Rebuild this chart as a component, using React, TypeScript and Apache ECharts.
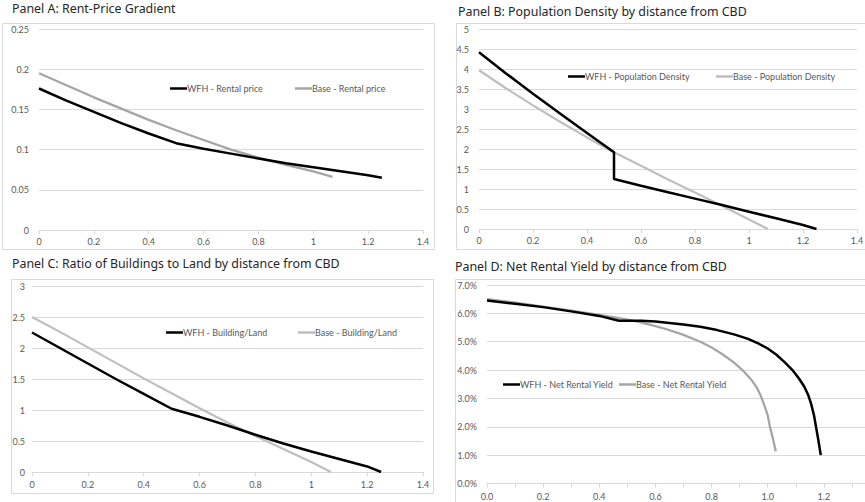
import React, { useEffect, useRef } from "react";
import * as echarts from "echarts";

// Panel A: Rent-Price Gradient
const aWfhX = [0, 0.1, 0.2, 0.3, 0.4, 0.5, 0.6, 0.7, 0.8, 0.9, 1.0, 1.1, 1.2, 1.25];
const aWfhY = [0.176, 0.161, 0.147, 0.133, 0.12, 0.108, 0.101, 0.095, 0.089, 0.083, 0.078, 0.073, 0.068, 0.065];
const aBaseX = [0, 0.1, 0.2, 0.3, 0.4, 0.5, 0.6, 0.7, 0.8, 0.9, 1.0, 1.07];
const aBaseY = [0.195, 0.18, 0.165, 0.151, 0.137, 0.124, 0.112, 0.1, 0.09, 0.081, 0.073, 0.066];

// Panel B: Population Density
const bWfhX = [0, 0.1, 0.2, 0.3, 0.4, 0.5, 0.5, 0.6, 0.7, 0.8, 0.9, 1.0, 1.1, 1.2, 1.25];
const bWfhY = [4.42, 3.89, 3.38, 2.89, 2.4, 1.92, 1.25, 1.08, 0.92, 0.76, 0.6, 0.43, 0.27, 0.1, 0];
const bBaseX = [0, 0.1, 0.2, 0.3, 0.4, 0.5, 0.6, 0.7, 0.8, 0.9, 1.0, 1.07];
const bBaseY = [3.97, 3.52, 3.09, 2.68, 2.29, 1.92, 1.58, 1.24, 0.91, 0.58, 0.24, 0];

// Panel C: Ratio of Buildings to Land
const cWfhX = [0, 0.1, 0.2, 0.3, 0.4, 0.5, 0.6, 0.7, 0.8, 0.9, 1.0, 1.1, 1.2, 1.25];
const cWfhY = [2.25, 2.0, 1.75, 1.5, 1.26, 1.02, 0.89, 0.75, 0.6, 0.46, 0.33, 0.21, 0.09, 0];
const cBaseX = [0, 0.1, 0.2, 0.3, 0.4, 0.5, 0.6, 0.7, 0.8, 0.9, 1.0, 1.07];
const cBaseY = [2.5, 2.26, 2.01, 1.76, 1.51, 1.27, 1.03, 0.8, 0.58, 0.37, 0.16, 0];

// Panel D: Net Rental Yield (%)
const dWfhX = [0, 0.1, 0.2, 0.3, 0.4, 0.47, 0.5, 0.55, 0.6, 0.7, 0.76, 0.82, 0.88, 0.93, 0.97, 1.0, 1.03, 1.06, 1.09, 1.11, 1.13, 1.145, 1.155, 1.165, 1.172, 1.18, 1.189];
const dWfhY = [6.45, 6.34, 6.22, 6.07, 5.91, 5.74, 5.74, 5.74, 5.71, 5.61, 5.53, 5.41, 5.26, 5.1, 4.92, 4.76, 4.55, 4.28, 3.98, 3.72, 3.42, 3.1, 2.8, 2.4, 2.0, 1.55, 1.0];
const dBaseX = [0, 0.1, 0.2, 0.3, 0.4, 0.46, 0.52, 0.58, 0.64, 0.7, 0.76, 0.8, 0.84, 0.88, 0.91, 0.94, 0.96, 0.975, 0.99, 1.0, 1.008, 1.018, 1.029];
const dBaseY = [6.5, 6.38, 6.24, 6.1, 5.95, 5.85, 5.74, 5.6, 5.44, 5.24, 5.0, 4.8, 4.55, 4.26, 4.0, 3.68, 3.4, 3.1, 2.7, 2.4, 2.0, 1.6, 1.13];

const titles = [
  "Panel A: Rent-Price Gradient",
  "Panel B: Population Density by distance from CBD",
  "Panel C: Ratio of Buildings to Land by distance from CBD",
  "Panel D: Net Rental Yield by distance from CBD",
];
const seriesNames = [
  ["WFH - Rental price", "Base - Rental price"],
  ["WFH - Population Density", "Base - Population Density"],
  ["WFH - Building/Land", "Base - Building/Land"],
  ["WFH - Net Rental Yield", "Base - Net Rental Yield"],
];

const zip = (xs: number[], ys: number[]) => xs.map((x, i) => [x, ys[i]]);

const FONT = "Lato";
const TITLE_FONT = "Noto Sans";
const GRID_C = "#d9d9d9";
const LABEL_C = "#595959";

export default function App() {
  const ref = useRef<HTMLDivElement>(null);
  useEffect(() => {
    if (!ref.current) return;
    const chart = echarts.init(ref.current, undefined, { renderer: "svg" });

    const grids = [
      { left: 39, top: 29, width: 384, height: 201 },
      { left: 479, top: 29, width: 378, height: 200 },
      { left: 32, top: 286, width: 391, height: 186 },
      { left: 487, top: 285, width: 393, height: 198.5 },
    ];
    const xFmt = (v: number) => String(Math.round(v * 10) / 10);
    const xAxisBase = (i: number) => ({
      type: "value",
      gridIndex: i,
      min: 0,
      max: 1.4,
      interval: i === 3 ? 0.1 : 0.2,
      axisLine: { show: true, lineStyle: { color: GRID_C, width: 1 } },
      axisTick: { show: true, length: 4, lineStyle: { color: GRID_C } },
      splitLine: { show: false },
      axisLabel: {
        color: LABEL_C,
        fontFamily: FONT,
        fontSize: 9,
        margin: i === 2 || i === 3 ? 8 : 7,
        formatter:
          i === 3
            ? (v: number) =>
                Math.round(v * 10) % 2 === 0 && v < 1.35 ? v.toFixed(1) : ""
            : xFmt,
      },
    });
    const yRanges = [
      { max: 0.25, interval: 0.05 },
      { max: 5, interval: 0.5 },
      { max: 3, interval: 0.5 },
      { max: 7, interval: 1 },
    ];
    const yAxes = yRanges.map((r, i) => ({
      type: "value",
      gridIndex: i,
      min: 0,
      max: r.max,
      interval: r.interval,
      axisLine: { show: false },
      axisTick: { show: false },
      splitLine: { show: true, lineStyle: { color: GRID_C, width: 1 } },
      axisLabel: {
        color: LABEL_C,
        fontFamily: FONT,
        fontSize: 9,
        margin: i === 2 ? 7 : 10,
        formatter: i === 3 ? (v: number) => v.toFixed(1) + "%" : undefined,
      },
    }));

    const grayA = "#a5a5a5";
    const grayB = "#bfbfbf";
    const seriesData = [
      [zip(aWfhX, aWfhY), zip(aBaseX, aBaseY)],
      [zip(bWfhX, bWfhY), zip(bBaseX, bBaseY)],
      [zip(cWfhX, cWfhY), zip(cBaseX, cBaseY)],
      [zip(dWfhX, dWfhY), zip(dBaseX, dBaseY)],
    ];
    const grays = [grayA, grayB, grayB, grayA];
    const series: any[] = [];
    seriesData.forEach((pair, i) => {
      series.push({
        type: "line",
        name: seriesNames[i][0],
        xAxisIndex: i,
        yAxisIndex: i,
        data: pair[0],
        showSymbol: false,
        symbol: "none",
        lineStyle: { color: "#000000", width: 2.5 },
        itemStyle: { color: "#000000" },
        z: 3,
      });
      series.push({
        type: "line",
        name: seriesNames[i][1],
        xAxisIndex: i,
        yAxisIndex: i,
        data: pair[1],
        showSymbol: false,
        symbol: "none",
        lineStyle: { color: grays[i], width: 2.25 },
        itemStyle: { color: grays[i] },
        z: 2,
      });
    });

    const legendPos = [
      [[170, 90], [295, 90]],
      [[568, 78], [716, 78]],
      [[166, 334], [298, 334]],
      [[503, 386], [619, 386]],
    ];
    const legends: any[] = [];
    legendPos.forEach((pair, i) => {
      pair.forEach((p, j) => {
        legends.push({
          data: [seriesNames[i][j]],
          left: p[0],
          top: p[1] - 6,
          padding: 0,
          icon: "rect",
          itemWidth: 17,
          itemHeight: 2.5,
          selectedMode: false,
          textStyle: {
            color: LABEL_C,
            fontFamily: FONT,
            fontSize: 9,
            padding: [0, 0, 0, -5],
          },
        });
      });
    });

    const titlePos = [
      [12, 11],
      [458, 14],
      [12, 266],
      [455, 269],
    ];
    const titleOpts = titles.map((t, i) => ({
      text: t,
      left: titlePos[i][0],
      top: titlePos[i][1] - 9,
      padding: 0,
      textStyle: {
        fontFamily: TITLE_FONT,
        fontSize: 12.4,
        fontWeight: 400,
        color: "#262626",
      },
    }));

    const frames = [
      [2, 23, 432, 226],
      [456, 23, 430, 226],
      [11, 279, 422, 214],
      [455, 279, 430, 240],
    ];

    chart.setOption({
      animation: false,
      backgroundColor: "#ffffff",
      title: titleOpts,
      legend: legends,
      grid: grids,
      xAxis: [0, 1, 2, 3].map(xAxisBase),
      yAxis: yAxes,
      series,
      graphic: frames.map((f) => ({
        type: "rect",
        z: -1,
        silent: true,
        shape: { x: f[0] + 0.5, y: f[1] + 0.5, width: f[2], height: f[3] },
        style: { fill: "none", stroke: GRID_C, lineWidth: 1 },
      })),
    });
    return () => chart.dispose();
  }, []);

  return (
    <div
      style={{
        position: "fixed",
        left: 0,
        top: 0,
        width: 865,
        height: 502,
        overflow: "hidden",
        background: "#fff",
      }}
    >
      <div ref={ref} style={{ width: 900, height: 520 }} />
    </div>
  );
}
